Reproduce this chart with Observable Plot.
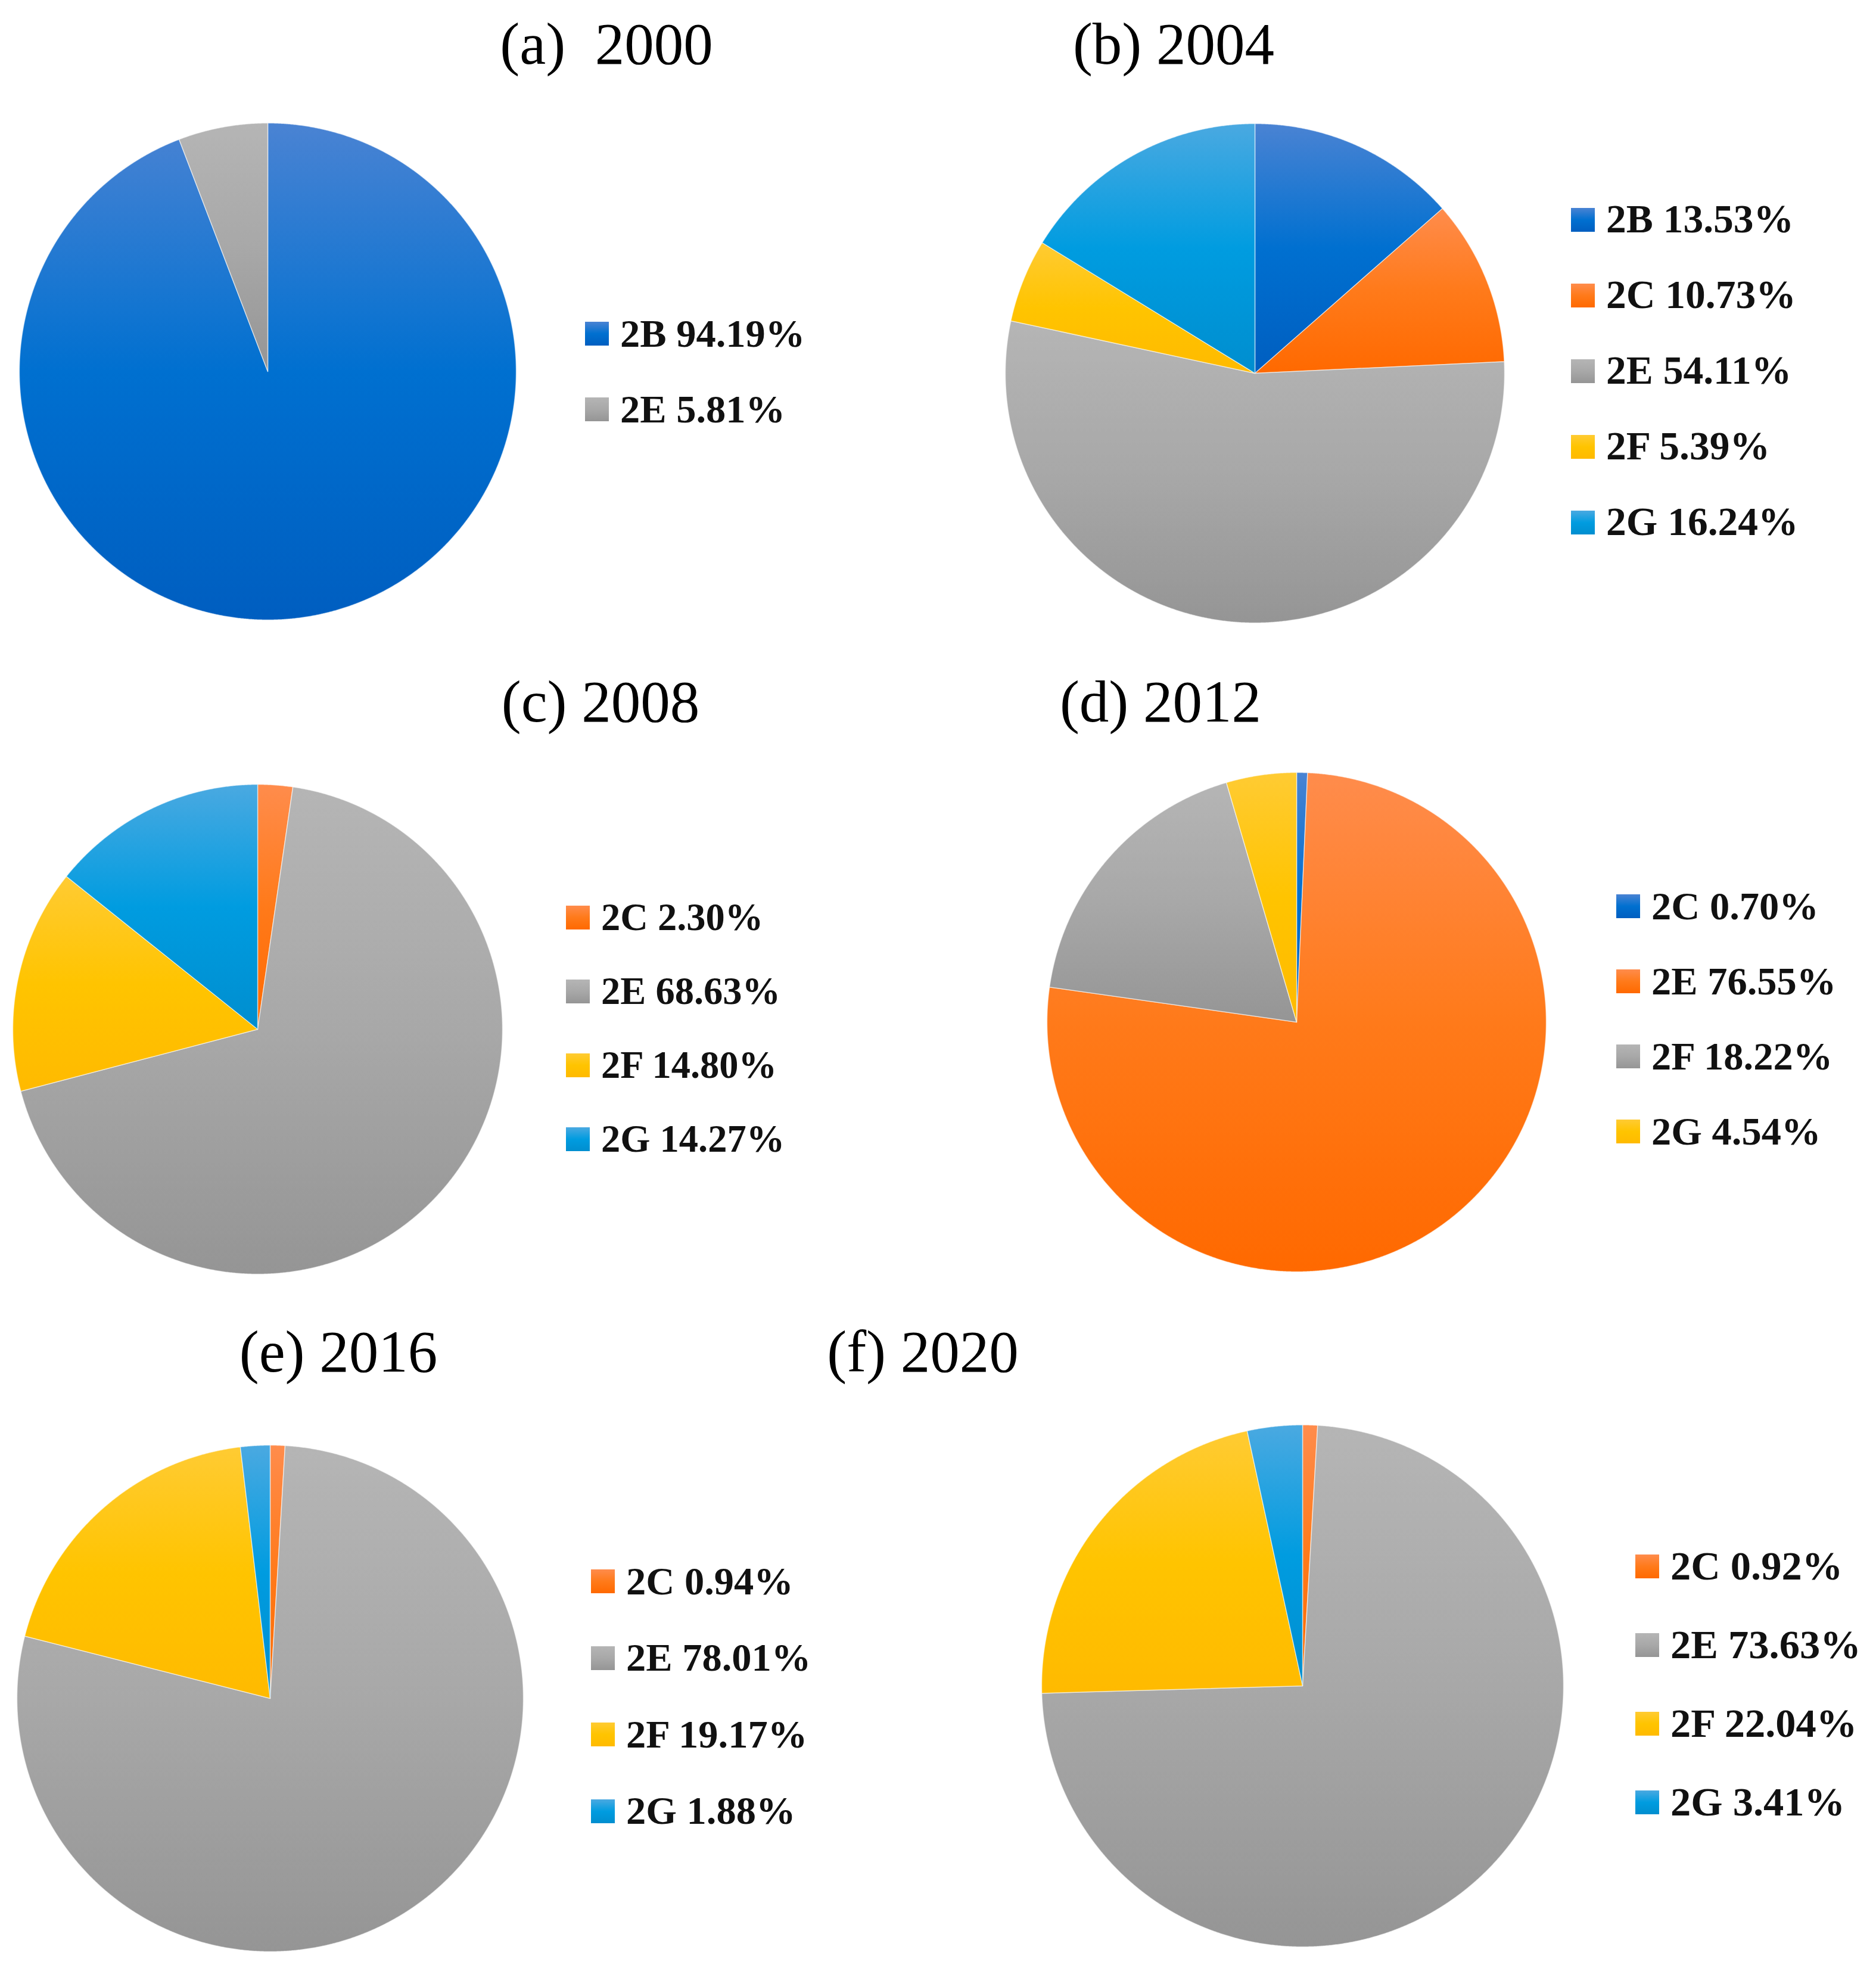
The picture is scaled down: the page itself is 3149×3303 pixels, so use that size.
<!DOCTYPE html>
<html><head><meta charset="utf-8">
<script src="https://cdn.jsdelivr.net/npm/d3@7"></script>
<script src="https://cdn.jsdelivr.net/npm/@observablehq/plot@0.6"></script>
<style>
body{margin:0;background:#fff;}
#page{position:relative;width:3149px;height:3303px;background:#fff;overflow:hidden;}
.title{position:absolute;font-family:"Liberation Serif",serif;font-size:99px;line-height:0;white-space:pre;transform:translateX(-50%);color:#000;}
.leg{position:absolute;font-family:"Liberation Serif",serif;font-weight:bold;line-height:0;white-space:pre;color:#111;}
.sw{position:absolute;width:40px;height:40px;}
.pie{position:absolute;}
</style></head><body><div id="page"></div>
<script>
// ---------- data ----------
const titles = ["(a)  2000", "(b) 2004", "(c) 2008", "(d) 2012", "(e) 2016", "(f) 2020"];
const labelsA = ["2B", "2E"];
const valuesA = [94.19, 5.81];
const labelsB = ["2B", "2C", "2E", "2F", "2G"];
const valuesB = [13.53, 10.73, 54.11, 5.39, 16.24];
const labelsC = ["2C", "2E", "2F", "2G"];
const valuesC = [2.30, 68.63, 14.80, 14.27];
const labelsD = ["2C", "2E", "2F", "2G"];
const valuesD = [0.70, 76.55, 18.22, 4.54];
const labelsE = ["2C", "2E", "2F", "2G"];
const valuesE = [0.94, 78.01, 19.17, 1.88];
const labelsF = ["2C", "2E", "2F", "2G"];
const valuesF = [0.92, 73.63, 22.04, 3.41];

// ---------- styles ----------
const palette = {
  blue:   ["#4a83d3", "#0070d0", "#005ec0"],
  orange: ["#ff8c4c", "#ff7a1a", "#ff6900"],
  gray:   ["#b5b5b5", "#a8a8a8", "#959595"],
  yellow: ["#ffcb33", "#ffc400", "#ffba00"],
  cyan:   ["#4aa9e1", "#009ce0", "#008ecf"]
};
const colorsA = ["blue", "gray"];
const colorsB = ["blue", "orange", "gray", "yellow", "cyan"];
const colorsC = ["orange", "gray", "yellow", "cyan"];
const colorsD = ["blue", "orange", "gray", "yellow"];
const colorsE = ["orange", "gray", "yellow", "cyan"];
const colorsF = ["orange", "gray", "yellow", "cyan"];

// ---------- layout ----------
const pieCX = [449, 2106, 432, 2176, 453, 2186];
const pieCY = [623, 626, 1727, 1715, 2850, 2829];
const pieR  = [417, 419, 411, 419, 425, 438];
const titleX = [1018, 1970, 1008, 1948, 568, 1549];
const titleBase = [107, 107, 1211, 1211, 2302, 2302];
const legX = [982, 2637, 950, 2713, 992, 2745];
const legY0 = [560, 369, 1540, 1521, 2654, 2629];
const legStep = [127, 127, 124, 126, 128.5, 132];
const legFont = [66.5, 67.5, 64.5, 66.5, 66.5, 68.5];

const panels = [
  [labelsA, valuesA, colorsA],
  [labelsB, valuesB, colorsB],
  [labelsC, valuesC, colorsC],
  [labelsD, valuesD, colorsD],
  [labelsE, valuesE, colorsE],
  [labelsF, valuesF, colorsF]
];

const page = document.getElementById("page");

// gradient defs
const NS = "http://www.w3.org/2000/svg";
const defsSvg = document.createElementNS(NS, "svg");
defsSvg.setAttribute("width", 0); defsSvg.setAttribute("height", 0);
defsSvg.style.position = "absolute";
const defs = document.createElementNS(NS, "defs");
for (const [name, stops] of Object.entries(palette)) {
  const g = document.createElementNS(NS, "linearGradient");
  g.setAttribute("id", "g-" + name);
  g.setAttribute("x1", 0); g.setAttribute("y1", 0); g.setAttribute("x2", 0); g.setAttribute("y2", 1);
  stops.forEach((c, i) => {
    const s = document.createElementNS(NS, "stop");
    s.setAttribute("offset", (i / (stops.length - 1) * 100) + "%");
    s.setAttribute("stop-color", c);
    g.appendChild(s);
  });
  defs.appendChild(g);
}
defsSvg.appendChild(defs);
page.appendChild(defsSvg);

const M = 3;
panels.forEach(([labels, values, colors], p) => {
  const arcs = d3.pie().sort(null).value(d => d)(values);
  const pts = [];
  arcs.forEach((a, i) => {
    const fill = `url(#g-${colors[i]})`;
    const n = Math.max(2, Math.ceil((a.endAngle - a.startAngle) / 0.004));
    pts.push({k: labels[i], x: 0, y: 0, f: fill});
    for (let j = 0; j <= n; j++) {
      const t = a.startAngle + (a.endAngle - a.startAngle) * j / n;
      pts.push({k: labels[i], x: Math.sin(t), y: Math.cos(t), f: fill});
    }
    pts.push({k: labels[i], x: 0, y: 0, f: fill});
  });
  const R = pieR[p];
  const chart = Plot.plot({
    width: 2 * R + 2 * M,
    height: 2 * R + 2 * M,
    margin: M,
    x: {domain: [-1, 1], axis: null},
    y: {domain: [-1, 1], axis: null},
    color: {type: "identity"},
    style: {background: "transparent", overflow: "visible"},
    marks: [
      Plot.line(pts, {x: "x", y: "y", z: "k", fill: "f", stroke: "#ffffff", strokeWidth: 1.5, strokeOpacity: 0.55, curve: "linear"})
    ]
  });
  chart.classList.add("pie");
  chart.style.left = (pieCX[p] - R - M) + "px";
  chart.style.top = (pieCY[p] - R - M) + "px";
  page.appendChild(chart);

  // title
  const t = document.createElement("div");
  t.className = "title";
  t.textContent = titles[p];
  t.style.left = titleX[p] + "px";
  t.style.top = (titleBase[p] - 0.3375 * 99) + "px";
  page.appendChild(t);

  // legend
  labels.forEach((lab, i) => {
    const cy = legY0[p] + i * legStep[p];
    const st = palette[colors[i]];
    const sw = document.createElement("div");
    sw.className = "sw";
    sw.style.left = legX[p] + "px";
    sw.style.top = (cy - 20) + "px";
    sw.style.background = `linear-gradient(${st[0]}, ${st[1]}, ${st[2]})`;
    page.appendChild(sw);
    const fs = legFont[p];
    const tx = document.createElement("div");
    tx.className = "leg";
    tx.style.fontSize = fs + "px";
    tx.style.left = (legX[p] + 59) + "px";
    tx.style.top = (cy + 22 - 0.3375 * fs) + "px";
    tx.textContent = `${lab} ${values[i].toFixed(2)}%`;
    page.appendChild(tx);
  });
});
</script></body></html>
